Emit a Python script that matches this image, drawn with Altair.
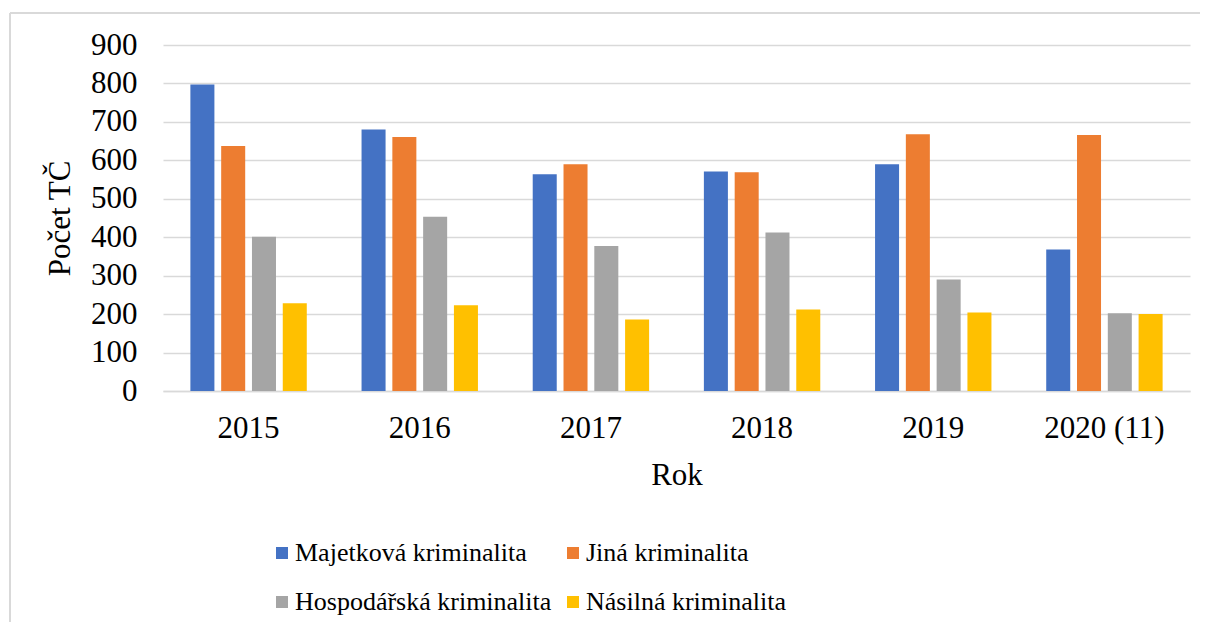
import altair as alt
import pandas as pd

years = ["2015", "2016", "2017", "2018", "2019", "2020 (11)"]
series = ["Majetková kriminalita", "Jiná kriminalita", "Hospodářská kriminalita", "Násilná kriminalita"]
majetkova = [797, 680, 564, 571, 590, 368]
jina = [637, 661, 590, 569, 668, 666]
hospodarska = [401, 453, 377, 412, 290, 202]
nasilna = [228, 223, 186, 212, 204, 200]
colors = ["#4472C4", "#ED7D31", "#A5A5A5", "#FFC000"]
y_ticks = [0, 100, 200, 300, 400, 500, 600, 700, 800, 900]

rows = []
for s, vals in zip(series, [majetkova, jina, hospodarska, nasilna]):
    for y, v in zip(years, vals):
        rows.append({"Rok": y, "Série": s, "Počet": v})
df = pd.DataFrame(rows)

FONT = "Liberation Serif"

bars = alt.Chart(df).mark_bar().encode(
    x=alt.X("Rok:N", sort=years,
            scale=alt.Scale(paddingInner=0.32, paddingOuter=0.16),
            axis=alt.Axis(title="Rok", labelAngle=0, ticks=False, domain=True,
                          domainColor="#d9d9d9", domainWidth=1.5,
                          labelFont=FONT, labelFontSize=31, labelColor="#000",
                          labelPadding=22, titleFont=FONT, titleFontSize=31,
                          titleFontWeight="normal", titleColor="#000", titlePadding=17)),
    xOffset=alt.XOffset("Série:N", sort=series,
                        scale=alt.Scale(paddingInner=0.22, paddingOuter=0)),
    y=alt.Y("Počet:Q", scale=alt.Scale(domain=[0, 900], nice=False),
            axis=alt.Axis(title="Počet TČ", values=y_ticks, ticks=False, domain=False,
                          grid=True, gridColor="#d9d9d9", gridWidth=1.5,
                          labelFont=FONT, labelFontSize=31, labelColor="#000",
                          labelPadding=26, titleFont=FONT, titleFontSize=31,
                          titleFontWeight="normal", titleColor="#000", titlePadding=14)),
    color=alt.Color("Série:N", sort=series,
                    scale=alt.Scale(domain=series, range=colors),
                    legend=alt.Legend(title=None, orient="none", legendX=106, legendY=495,
                                      columns=2, direction="horizontal",
                                      symbolType="square", symbolSize=144,
                                      symbolStrokeWidth=0,
                                      labelFont=FONT, labelFontSize=26, labelColor="#000",
                                      labelLimit=400, labelOffset=0,
                                      columnPadding=8, rowPadding=23, padding=0)),
)

frame_left = alt.Chart(df).mark_rule(stroke="#d9d9d9", strokeWidth=1.5).encode(
    x=alt.value(-153), y=alt.value(-32), y2=alt.value(640)
)
frame_top = alt.Chart(df).mark_rule(stroke="#d9d9d9", strokeWidth=1.5).encode(
    x=alt.value(-153), x2=alt.value(1100), y=alt.value(-32)
)

chart = alt.layer(frame_left, frame_top, bars).properties(
    width=1027, height=346,
    autosize=alt.AutoSizeParams(type="none"),
    padding={"left": 155, "top": 37, "right": 10, "bottom": 231},
).configure_view(stroke=None)

chart.save("out.html", embed_options={"renderer": "svg", "actions": False})
